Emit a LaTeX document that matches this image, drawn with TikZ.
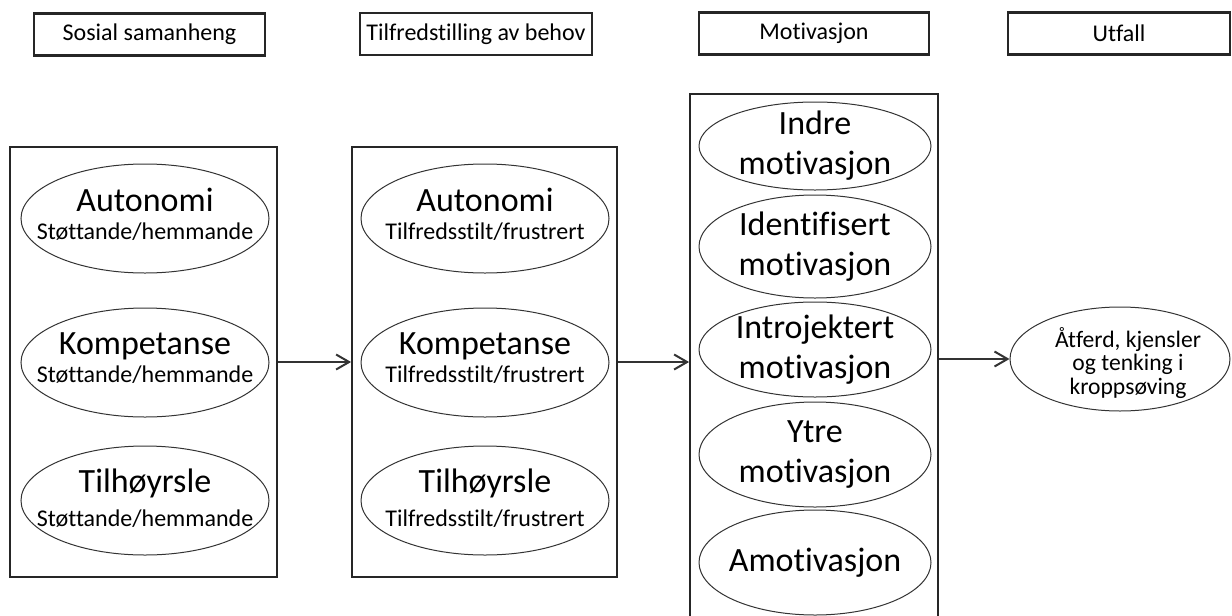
\documentclass[tikz,border=0pt]{standalone}
\usepackage{fontspec}
\setmainfont{Carlito}[Ligatures=NoCommon]
\usetikzlibrary{shapes.geometric,arrows.meta}

\begin{document}
\begin{tikzpicture}[x=0.5pt,y=-0.5pt,
        head/.style={draw=black!85,line width=1.1pt,minimum height=21pt,inner sep=0pt,font=\fontsize{12}{14}\selectfont},
        panel/.style={draw=black!85,line width=0.9pt,inner sep=0pt},
        oval/.style={ellipse,draw=black!80,line width=0.5pt,inner sep=0pt,minimum width=124pt},
        pair/.style={align=center,inner sep=0pt,font=\fontsize{12}{14}\selectfont},
        motiv/.style={align=center,inner sep=0pt,font=\fontsize{17}{20}\selectfont},
        flow/.style={draw=black!80,line width=1pt,-{Straight Barb[length=6.5pt,width=7.5pt]}}]
        \useasboundingbox (0,0) rectangle (1232,616);

        % Headers along the top
        \node[head,minimum width=115.5pt] (hsos) at (149.5,34.5) {Sosial samanheng};
        \node[head,minimum width=116pt] (htil) at (476,34) {Tilfredstilling av behov};
        \node[head,minimum width=115pt] (hmot) at (814,33.5) {Motivasjon};
        \node[head,minimum width=111pt] (hutf) at (1119,33.5) {Utfall};

        % Panels; the motivation panel runs past the bottom edge
        \node[panel,minimum width=133.5pt,minimum height=215pt] (psos) at (143.5,362) {};
        \node[panel,minimum width=132.5pt,minimum height=215pt] (ptil) at (484.5,362) {};
        \node[panel,minimum width=124pt,minimum height=268pt] (pmot) at (814,362) {};

        % Social context
        \node[oval,minimum height=54.5pt] (saut) at (145,218.5) {};
        \node[pair] (saut-txt) at ([yshift=2pt]saut) {{\fontsize{17}{20}\selectfont Autonomi}\\Støttande/hemmande};
        \node[oval,minimum height=54.5pt] (skom) at (145,362.5) {};
        \node[pair] (skom-txt) at ([yshift=2pt]skom) {{\fontsize{17}{20}\selectfont Kompetanse}\\Støttande/hemmande};
        \node[oval,minimum height=54.5pt] (stil) at (145,500.5) {};
        \node[pair] (stil-txt) at ([yshift=1pt]stil) {{\fontsize{17}{20}\selectfont Tilhøyrsle}\\[3pt]Støttande/hemmande};

        % Need satisfaction
        \node[oval,minimum height=54.5pt] (taut) at (485,218.5) {};
        \node[pair] (taut-txt) at ([yshift=2pt]taut) {{\fontsize{17}{20}\selectfont Autonomi}\\Tilfredsstilt/frustrert};
        \node[oval,minimum height=54.5pt] (tkom) at (485,362.5) {};
        \node[pair] (tkom-txt) at ([yshift=2pt]tkom) {{\fontsize{17}{20}\selectfont Kompetanse}\\Tilfredsstilt/frustrert};
        \node[oval,minimum height=54.5pt] (ttil) at (485,500.5) {};
        \node[pair] (ttil-txt) at ([yshift=1pt]ttil) {{\fontsize{17}{20}\selectfont Tilhøyrsle}\\[3pt]Tilfredsstilt/frustrert};

        % Motivation types, from inner to none
        \node[oval,minimum width=116pt,minimum height=44pt] (mind) at (815,146) {};
        \node[motiv] (mind-txt) at (mind) {Indre\\motivasjon};
        \node[oval,minimum width=116pt,minimum height=51.5pt] (mide) at (815,246.5) {};
        \node[motiv] (mide-txt) at (mide) {Identifisert\\motivasjon};
        \node[oval,minimum width=116pt,minimum height=47.5pt] (mint) at (815,349.5) {};
        \node[motiv] (mint-txt) at (mint) {Introjektert\\motivasjon};
        \node[oval,minimum width=116pt,minimum height=52.5pt] (mytr) at (815,454.5) {};
        \node[motiv] (mytr-txt) at (mytr) {Ytre\\motivasjon};
        \node[oval,minimum width=116pt,minimum height=52.5pt] (mamo) at (815,562.5) {};
        \node[motiv] (mamo-txt) at (mamo) {Amotivasjon};

        % Outcome
        \node[oval,minimum width=110pt,minimum height=52pt] (outc) at (1120,359) {};
        \node[pair,font=\fontsize{11.8}{11.6}\selectfont] (outc-txt) at ([xshift=4pt,yshift=-2pt]outc) {Åtferd, kjensler\\og tenking i\\kroppsøving};

        % Flow between the stages
        \draw[flow] (psos.east) -- (ptil.west);
        \draw[flow] (ptil.east) -- (pmot.west);
        \draw[flow] (pmot.east |- outc.west) -- (outc.west);
    \end{tikzpicture}
\end{document}
